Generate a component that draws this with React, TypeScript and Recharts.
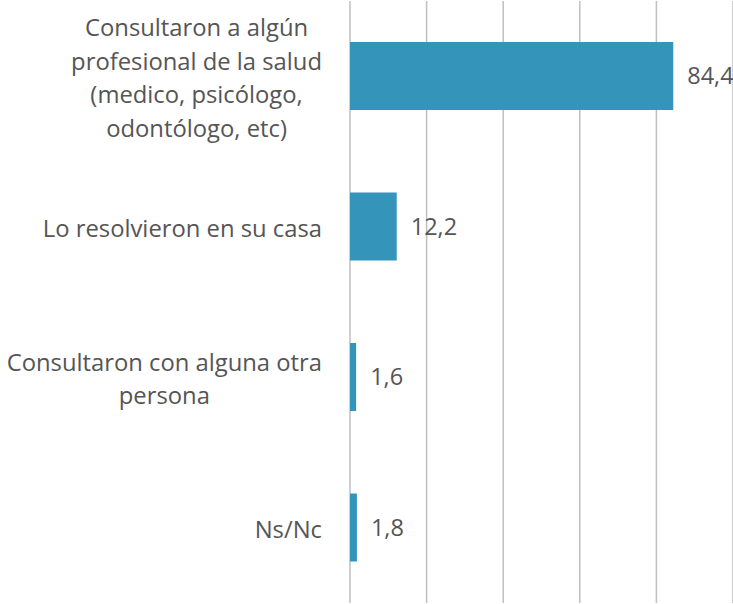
import { BarChart, Bar, XAxis, YAxis, CartesianGrid, LabelList } from 'recharts'

const categories = [
  'Consultaron a algún\nprofesional de la salud\n(medico, psicólogo,\nodontólogo, etc)',
  'Lo resolvieron en su casa',
  'Consultaron con alguna otra\npersona',
  'Ns/Nc',
]
const values = [84.4, 12.2, 1.6, 1.8]
const xTicks = [0, 20, 40, 60, 80, 100]

const data = categories.map((name, i) => ({ name, value: values[i] }))

const FONT = '"Open Sans", "Liberation Sans", sans-serif'
const TEXT = '#555555'

function CategoryTick(props: any) {
  const { x, y, payload } = props
  const lines = String(payload.value).split('\n')
  const boxW = 348
  const lineH = 33.5
  const boxH = lines.length * lineH
  return (
    <foreignObject x={x - boxW - 20} y={y - boxH / 2 + 2} width={boxW} height={boxH}>
      <div style={{ display: 'flex', justifyContent: 'flex-end', width: boxW }}>
        <div
          style={{
            textAlign: 'center',
            fontFamily: FONT,
            fontSize: 23.8,
            lineHeight: `${lineH}px`,
            color: TEXT,
            whiteSpace: 'nowrap',
          }}
        >
          {lines.map((l, i) => (
            <div key={i}>{l}</div>
          ))}
        </div>
      </div>
    </foreignObject>
  )
}

export default function App() {
  return (
    <div style={{ position: 'absolute', left: 0, top: 0, width: 733, height: 604, background: '#fff' }}>
      <BarChart
        width={733}
        height={604}
        data={data}
        layout="vertical"
        margin={{ top: 1, right: 0, bottom: 1, left: 0 }}
        barSize={68}
      >
        <CartesianGrid horizontal={false} stroke="#bfbfbf" strokeWidth={1.5} />
        <XAxis type="number" domain={[0, 100]} ticks={xTicks} hide />
        <YAxis
          type="category"
          dataKey="name"
          width={350}
          axisLine={false}
          tickLine={false}
          tick={<CategoryTick />}
          interval={0}
        />
        <Bar dataKey="value" fill="#3494ba" isAnimationActive={false}>
          <LabelList
            dataKey="value"
            position="right"
            offset={14}
            formatter={(v: any) => String(v).replace('.', ',')}
            style={{ fontFamily: FONT, fontSize: 23.5, fill: TEXT }}
          />
        </Bar>
      </BarChart>
    </div>
  )
}
